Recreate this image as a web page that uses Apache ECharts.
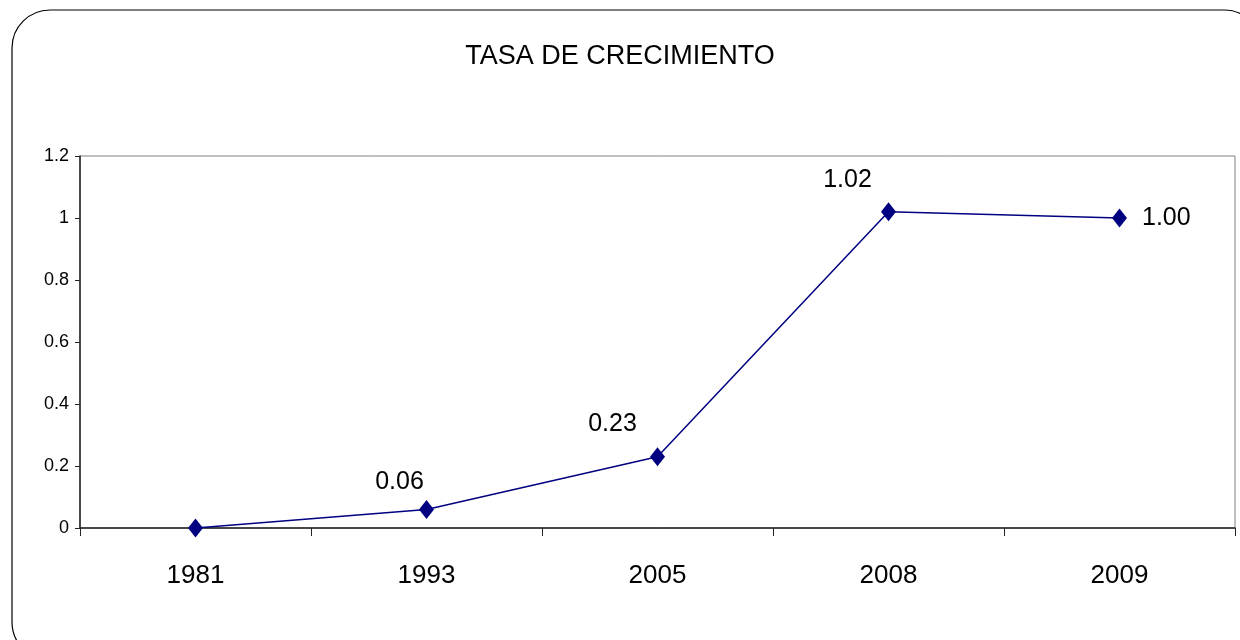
<!DOCTYPE html>
<html>
<head>
<meta charset="utf-8">
<script src="https://cdn.jsdelivr.net/npm/echarts@6/dist/echarts.min.js"></script>
<style>
html, body { margin: 0; padding: 0; background: #fff; }
#chart { width: 1240px; height: 640px; }
</style>
</head>
<body>
<div id="chart"></div>
<script>
var years = ['1981', '1993', '2005', '2008', '2009'];
var tasa = [0, 0.06, 0.23, 1.02, 1.00];
var yTicks = [0, 0.2, 0.4, 0.6, 0.8, 1, 1.2];

var FONT = "'Liberation Sans Narrow', 'Liberation Sans', Arial, sans-serif";

// donde va cada etiqueta respecto al punto
var labelPos = [null, [-27, -27], [-45, -33], [-41, -32], 'right'];

var points = tasa.map(function(v, i) {
	var p = labelPos[i];
	var lbl;
	if (p === null) {
		lbl = { show: false };
	} else if (p === 'right') {
		lbl = { show: true, position: 'right', distance: 15 };
	} else {
		lbl = { show: true, position: 'inside', offset: p };
	}
	return { value: v, label: lbl };
});

var chart = echarts.init(document.getElementById('chart'));
chart.setOption({
	backgroundColor: '#fff',
	animation: false,
	title: {
		text: 'TASA DE CRECIMIENTO',
		left: 'center',
		top: 38,
		textStyle: {
			fontFamily: FONT,
			fontSize: 27,
			fontWeight: 'normal',
			color: '#000'
		}
	},
	graphic: [{
		type: 'rect',
		shape: { x: 12, y: 10, width: 1250, height: 650, r: 38 },
		style: { fill: 'none', stroke: '#000', lineWidth: 1.2 },
		silent: true
	}],
	grid: {
		left: 80,
		right: 5,
		top: 156,
		bottom: 112,
		show: true,
		borderColor: '#808080',
		borderWidth: 1
	},
	xAxis: {
		type: 'category',
		data: years,
		boundaryGap: true,
		axisLine: { lineStyle: { color: '#222', width: 1.5 } },
		axisTick: { show: true, alignWithLabel: false, length: 8, lineStyle: { color: '#222' } },
		axisLabel: {
			margin: 35,
			fontFamily: FONT,
			fontSize: 26,
			color: '#000'
		},
		splitLine: { show: false }
	},
	yAxis: {
		type: 'value',
		min: 0,
		max: 1.2,
		interval: 0.2,
		axisLine: { show: true, lineStyle: { color: '#222', width: 1.5 } },
		axisTick: { show: true, length: 5, lineStyle: { color: '#222' } },
		axisLabel: {
			margin: 11,
			fontFamily: FONT,
			fontSize: 18,
			color: '#000',
			formatter: function(v) {
				for (var i = 0; i < yTicks.length; i++) {
					if (Math.abs(yTicks[i] - v) < 1e-9) return String(yTicks[i]);
				}
				return '';
			}
		},
		splitLine: { show: false }
	},
	series: [{
		type: 'line',
		data: points,
		symbol: 'diamond',
		symbolSize: [15, 19],
		itemStyle: { color: '#000080' },
		lineStyle: { color: '#000080', width: 1.5 },
		label: {
			fontFamily: FONT,
			fontSize: 25,
			color: '#000',
			formatter: function(p) { return p.value.toFixed(2); }
		}
	}]
});
</script>
</body>
</html>
